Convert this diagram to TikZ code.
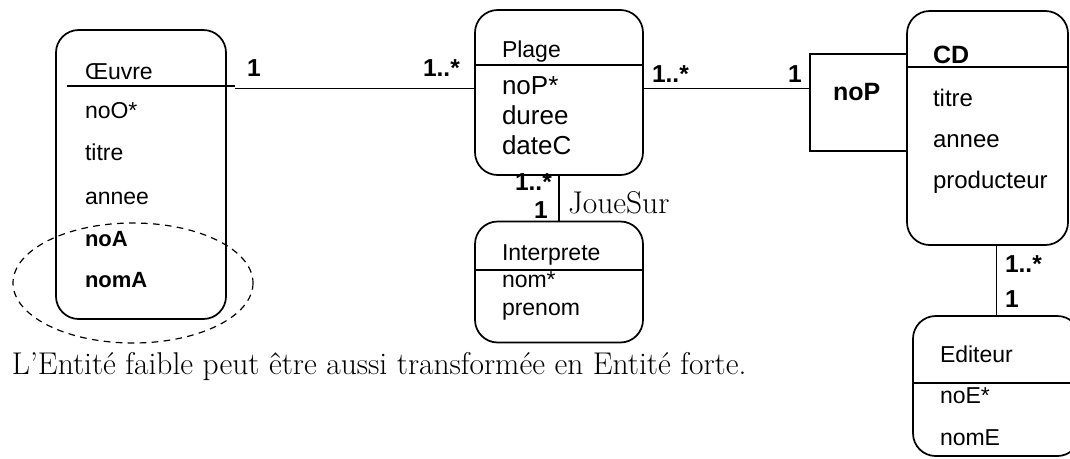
\documentclass[tikz,border=0pt]{standalone}
\usepackage{fontspec}
\setsansfont{Liberation Sans}
\usetikzlibrary{calc}
\begin{document}
\begin{tikzpicture}[x=0.75pt,y=-0.75pt,
  every node/.style={inner sep=0pt, outer sep=0pt},
  entity/.style n args={2}{draw, line width=1.3pt, rounded corners=17pt,
    minimum width={#1*0.75pt}, minimum height={#2*0.75pt}},
  keybox/.style n args={2}{draw, line width=1.3pt,
    minimum width={#1*0.75pt}, minimum height={#2*0.75pt}},
  sepline/.style={line width=1.2pt},
  link/.style={line width=1.2pt},
  weak/.style={line width=0.9pt, dash pattern=on 5pt off 4pt},
  attr/.style={anchor=base west, font=\sffamily\fontsize{17.25pt}{20pt}\selectfont},
  attrbig/.style={anchor=base west, font=\sffamily\fontsize{19.5pt}{22pt}\selectfont},
  attrmid/.style={anchor=base west, font=\sffamily\fontsize{18pt}{21pt}\selectfont},
  attrbold/.style={anchor=base west, font=\sffamily\bfseries\fontsize{16.5pt}{20pt}\selectfont},
  title/.style={anchor=base west, font=\sffamily\bfseries\fontsize{18.75pt}{22pt}\selectfont},
  mult/.style={anchor=base west, font=\sffamily\bfseries\fontsize{18.4pt}{22pt}\selectfont},
  serif/.style={anchor=base west, font=\rmfamily\fontsize{23.6pt}{27pt}\selectfont}
]
\useasboundingbox (0,0) rectangle (1070,458);
\clip (0,0) rectangle (1070,458);

% ---- entity boxes ----
\node[entity={170}{289}] (oeuvre) at (141,174.5) {};
\node[entity={168}{165}] (plage) at (559,92.5) {};
\node[entity={168}{121}] (interp) at (559,282) {};
\node[keybox={97}{97}] (nopbox) at (858.5,102.5) {};
\node[entity={161}{234}] (cd) at (987.5,128) {};
\node[entity={167}{140}] (editeur) at (996.5,386) {};

% ---- title separators ----
\draw[sepline] (67,86) -- (235,86);
\draw[sepline] (plage.west |- 0,65) -- (plage.east |- 0,65);
\draw[sepline] (interp.west |- 0,270) -- (interp.east |- 0,270);
\draw[sepline] (cd.west |- 0,67) -- (cd.east |- 0,67);
\draw[sepline] (editeur.west |- 0,383) -- (1070,383);

% ---- weak entity marker ----
\draw[weak] (133,283) ellipse [x radius=120, y radius=60];

% ---- associations ----
\coordinate (oeuvreEnd) at (235,88.5);
\draw[link] (oeuvreEnd) -- (plage.west |- oeuvreEnd);
\draw[link] (plage.east |- oeuvreEnd) -- (nopbox.west |- oeuvreEnd);
\draw[link] (plage.south) -- (interp.north);
\draw[link] (editeur.north |- cd.south) -- (editeur.north);

% ---- multiplicities ----
\node[mult] (m1) at (247,76) {1};
\node[mult] (m2) at (423,76) {1..*};
\node[mult] (m3) at (652,82) {1..*};
\node[mult] (m4) at (788,82) {1};
\node[mult] (m5) at (515,190) {1..*};
\node[mult] (m6) at (534,218) {1};
\node[mult] (m7) at (1005,272) {1..*};
\node[mult] (m8) at (1005,307) {1};
\node[serif] (joue) at (568,213) {JoueSur};

% ---- Oeuvre ----
\node[attr] (oT) at (85,79) {Œuvre};
\node[attr] (o1) at (85,118) {noO*};
\node[attr] (o2) at (85,160) {titre};
\node[attr] (o3) at (85,204) {annee};
\node[attrbold] (o4) at (85,246) {noA};
\node[attrbold] (o5) at (85,287) {nomA};

% ---- Plage ----
\node[attr] (pT) at (502,57) {Plage};
\node[attrbig] (p1) at (502,94) {noP*};
\node[attrbig] (p2) at (502,124) {duree};
\node[attrbig] (p3) at (502,154) {dateC};

% ---- Interprete ----
\node[attr] (iT) at (502,260) {Interprete};
\node[attr] (i1) at (502,287) {nom*};
\node[attr] (i2) at (502,315) {prenom};

% ---- noP key ----
\node[title] (nopT) at (833,100) {noP};

% ---- CD ----
\node[title] (cT) at (933,63) {CD};
\node[attrmid] (c1) at (933,106) {titre};
\node[attrmid] (c2) at (933,147) {annee};
\node[attrmid] (c3) at (933,188) {producteur};

% ---- Editeur ----
\node[attr] (eT) at (940,362) {Editeur};
\node[attr] (e1) at (940,403) {noE*};
\node[attr] (e2) at (940,445) {nomE};

% ---- note ----
\node[serif] (note) at (12,374) {L’Entité faible peut être aussi transformée en Entité forte.};
\end{tikzpicture}
\end{document}
